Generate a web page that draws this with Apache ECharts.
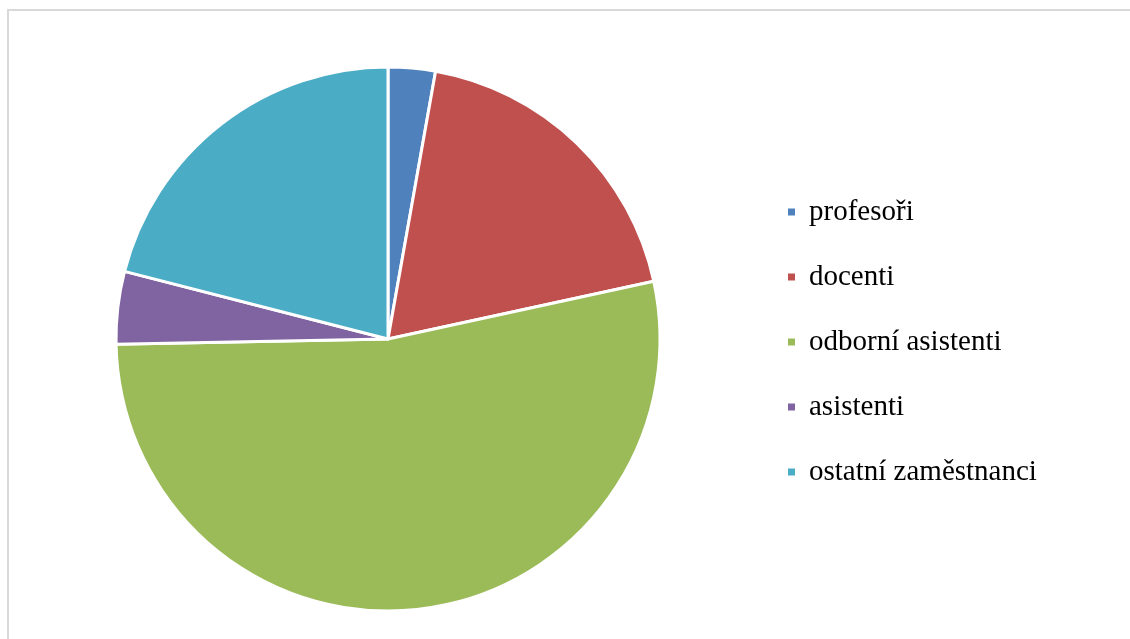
<!DOCTYPE html>
<html>
<head>
<meta charset="utf-8">
<script src="https://cdn.jsdelivr.net/npm/echarts@6/dist/echarts.min.js"></script>
<style>html,body{margin:0;padding:0;background:#fff;}#c{width:1130px;height:639px;}</style>
</head>
<body>
<div id="c"></div>
<script>
const categories = ['profesoři', 'docenti', 'odborní asistenti', 'asistenti', 'ostatní zaměstnanci'];
const values = [2.8, 18.8, 53.1, 4.3, 21.0];
const colors = ['#4F81BD', '#C0504D', '#9BBB59', '#8064A2', '#4BACC6'];

const chart = echarts.init(document.getElementById('c'), null, {renderer: 'canvas'});
chart.setOption({
  animation: false,
  color: colors,
  graphic: [{
    type: 'rect',
    shape: {x: 8, y: 10, width: 1140, height: 650},
    style: {fill: 'none', stroke: '#d9d9d9', lineWidth: 2},
    silent: true
  }],
  legend: {
    orient: 'vertical',
    left: 781,
    top: 192,
    icon: 'rect',
    itemWidth: 9,
    itemHeight: 9,
    itemGap: 35,
    textStyle: {fontFamily: 'Liberation Serif', fontSize: 29, color: '#000', lineHeight: 30, padding: [0, 0, 0, 8]}
  },
  series: [{
    type: 'pie',
    center: [388, 339],
    radius: [0, 272],
    startAngle: 90,
    clockwise: true,
    label: {show: false},
    labelLine: {show: false},
    itemStyle: {borderColor: '#fff', borderWidth: 3},
    emphasis: {disabled: true},
    data: categories.map((n, i) => ({name: n, value: values[i]}))
  }]
});
</script>
</body>
</html>
